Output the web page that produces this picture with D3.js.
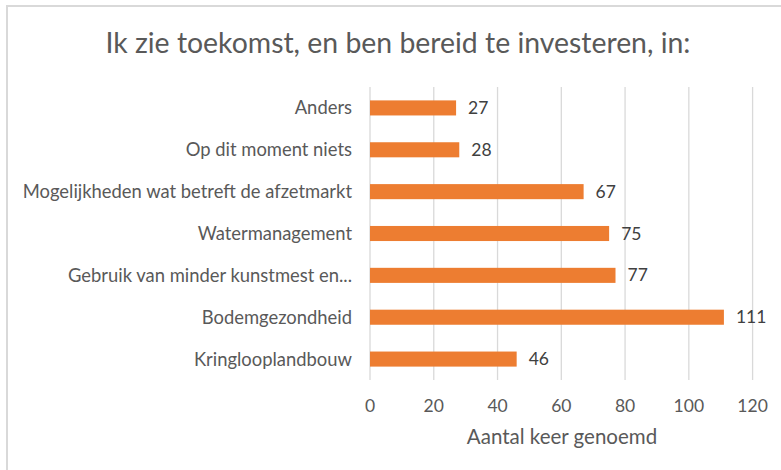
<!DOCTYPE html>
<html><head><meta charset="utf-8">
<script src="https://cdn.jsdelivr.net/npm/d3@7"></script>
<style>body{margin:0;background:#fff}svg{display:block}</style>
</head><body><div id="chart"></div>
<script>
const title = "Ik zie toekomst, en ben bereid te investeren, in:";
const categories = ["Anders","Op dit moment niets","Mogelijkheden wat betreft de afzetmarkt","Watermanagement","Gebruik van minder kunstmest en...","Bodemgezondheid","Kringlooplandbouw"];
const values = [27,28,67,75,77,111,46];
const xTicks = [0,20,40,60,80,100,120];
const xTitle = "Aantal keer genoemd";

const W = 781, H = 470;
const font = "Lato, 'Open Sans', sans-serif";
const svg = d3.select("#chart").append("svg").attr("width",W).attr("height",H);
svg.append("rect").attr("x",7).attr("y",6).attr("width",W+20).attr("height",H+20)
  .attr("fill","#fff").attr("stroke","#d9d9d9").attr("stroke-width",2);

const x = d3.scaleLinear().domain([0,120]).range([370,752.6]);
const y = d3.scaleBand().domain(categories).range([87,380]).paddingInner(0.64).paddingOuter(0.32);

svg.append("g").selectAll("line").data(xTicks).join("line")
  .attr("x1",d=>x(d)).attr("x2",d=>x(d)).attr("y1",87).attr("y2",380)
  .attr("stroke","#d9d9d9").attr("stroke-width",1.3);

svg.append("g").selectAll("rect").data(values).join("rect")
  .attr("x",x(0)).attr("y",(d,i)=>y(categories[i]))
  .attr("width",d=>x(d)-x(0)).attr("height",y.bandwidth())
  .attr("fill","#ed7d31");

svg.append("g").selectAll("text").data(values).join("text")
  .attr("x",d=>x(d)+12).attr("y",(d,i)=>y(categories[i])+y.bandwidth()/2)
  .attr("dy","0.35em").attr("font-family",font).attr("font-size",17.5).attr("fill","#404040")
  .text(d=>d);

svg.append("g").selectAll("text").data(categories).join("text")
  .attr("x",352).attr("y",d=>y(d)+y.bandwidth()/2).attr("dy","0.35em")
  .attr("text-anchor","end").attr("font-family",font).attr("font-size",18.4).attr("fill","#595959")
  .text(d=>d);

svg.append("g").selectAll("text").data(xTicks).join("text")
  .attr("x",d=>x(d)).attr("y",406).attr("dy","0.35em").attr("text-anchor","middle")
  .attr("font-family",font).attr("font-size",17.5).attr("fill","#595959").text(d=>d);

svg.append("text").attr("x",562).attr("y",437).attr("dy","0.35em").attr("text-anchor","middle")
  .attr("font-family",font).attr("font-size",20.5).attr("fill","#595959").text(xTitle);

svg.append("text").attr("x",398).attr("y",53).attr("text-anchor","middle")
  .attr("font-family",font).attr("font-size",28.4).attr("fill","#595959").text(title);
</script></body></html>
